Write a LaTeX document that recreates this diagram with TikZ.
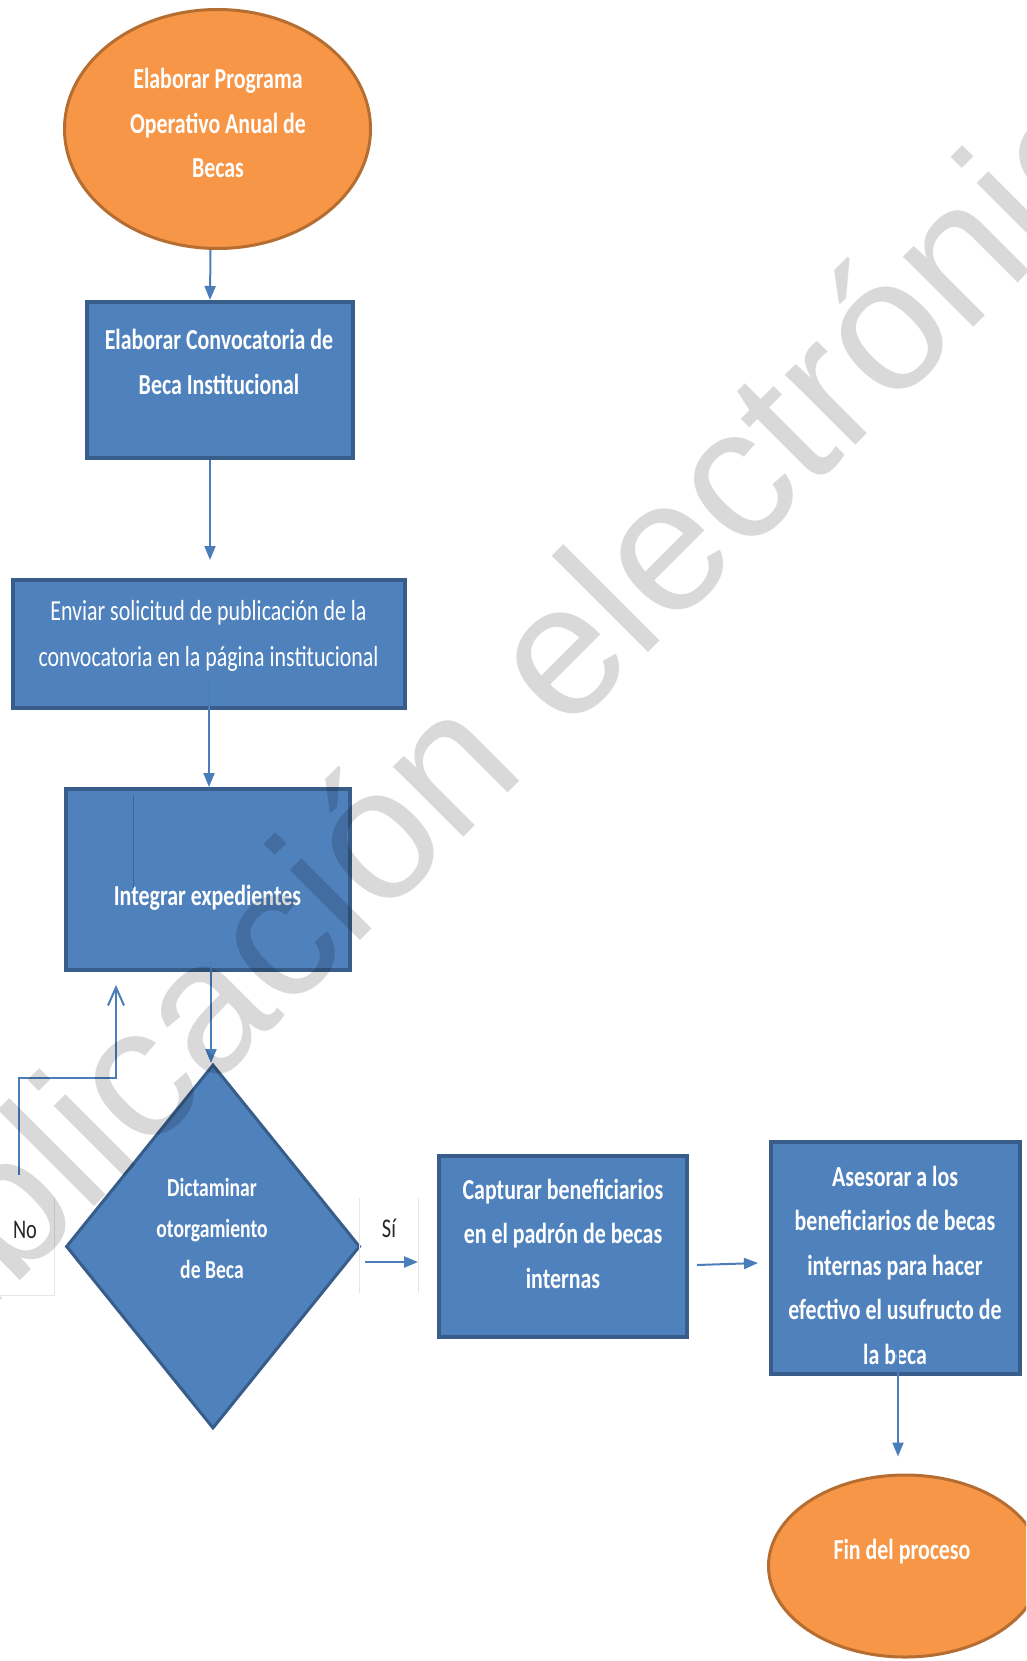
\documentclass[tikz,border=0pt]{standalone}
\usepackage{fontspec}
\setmainfont{Carlito}[FakeStretch=0.755]
\newfontfamily\wmfont{Liberation Sans}
\usetikzlibrary{shapes.geometric,arrows.meta}
\definecolor{boxblue}{HTML}{4F81BD}
\definecolor{boxedge}{HTML}{385D8A}
\definecolor{orfill}{HTML}{F79646}
\definecolor{oredge}{HTML}{B66D31}
\definecolor{linkblue}{HTML}{4A7EBB}
\definecolor{faintgray}{HTML}{E6E6E6}
\begin{document}
\begin{tikzpicture}[x={(1pt,0pt)}, y={(0pt,-1pt)},
  procbox/.style={rectangle, draw=boxedge, line width=4pt, fill=boxblue, inner sep=0pt},
  decbox/.style={diamond, draw=boxedge, line width=3pt, fill=boxblue, inner sep=0pt},
  termbox/.style={ellipse, draw=oredge, line width=3pt, fill=orfill, inner sep=0pt},
  lbl/.style={text=white, font=\fontsize{29}{44.5}\selectfont\bfseries, align=center, inner sep=0pt},
  lblreg/.style={text=white, font=\fontsize{29}{46}\selectfont, align=center, inner sep=0pt},
  dlbl/.style={text=white, font=\fontsize{26}{41}\selectfont\bfseries, align=center, inner sep=0pt},
  branchlbl/.style={text=black!85, font=\fontsize{27}{30}\selectfont, inner sep=0pt},
  framebox/.style={rectangle, draw=none, inner sep=0pt},
  faint/.style={draw=faintgray, line width=1pt},
  conn/.style={draw=linkblue, line width=2pt, -{Triangle[width=11pt,length=14pt]}},
  connopen/.style={draw=linkblue, line width=2pt, -{Straight Barb[width=16pt,length=18pt]}},
  artifact/.style={draw=boxedge!70!boxblue, line width=1pt}
]
\useasboundingbox (0,0) rectangle (1026,1661);
\fill[white] (0,0) rectangle (1026,1661);
\clip (0,0) rectangle (1026,1661);

% shapes
\node[termbox, minimum width=306pt, minimum height=239pt] (e1) at (217.5,129) {};
\node[procbox, minimum width=266pt, minimum height=156pt] (b1) at (220,380) {};
\node[procbox, minimum width=392pt, minimum height=128pt] (b2) at (209,644) {};
\node[procbox, minimum width=284pt, minimum height=181pt] (b3) at (208,879.5) {};
\node[decbox, minimum width=294pt, minimum height=364pt] (d) at (213,1246.5) {};
\node[procbox, minimum width=248pt, minimum height=181pt] (b4) at (563,1246.5) {};
\node[procbox, minimum width=249pt, minimum height=232pt] (b5) at (895.5,1258) {};
\node[termbox, minimum width=273pt, minimum height=182pt] (fin) at (905,1566) {};

% texts
\node[lbl] (t1) at (218,123) {Elaborar Programa\\Operativo Anual de\\Becas};
\node[lbl] (t2) at (219,362) {Elaborar Convocatoria de\\Beca Institucional};
\node[lblreg] (t3) at (208.5,636) {Enviar solicitud de publicación de la\\convocatoria en la página institucional};
\node[lbl] (t4) at (207.5,898) {Integrar expedientes};
\node[dlbl] (t5) at (212,1228) {Dictaminar\\otorgamiento\\de Beca};
\node[lbl] (t6) at (563,1233.5) {Capturar beneficiarios\\en el padrón de becas\\internas};
\node[lbl] (t7) at (895,1265) {Asesorar a los\\beneficiarios de becas\\internas para hacer\\efectivo el usufructo de\\la beca};
\node[lbl] (t8) at (902,1552) {Fin del proceso};

% branch labels with their faint frames
\node[framebox, minimum width=64pt, minimum height=98pt] (nobox) at (22,1246) {};
\draw[faint] (nobox.north east) -- (nobox.south east) -- (nobox.south west);
\node[branchlbl] (no) at (25,1230) {No};
\node[framebox, minimum width=58pt, minimum height=95pt] (sibox) at (389,1245.5) {};
\draw[faint] (sibox.north west) -- (sibox.south west) (sibox.north east) -- (sibox.south east);
\node[branchlbl] (si) at (389,1228) {Sí};

% artifact line inside b3
\draw[artifact] ([xshift=-75pt,yshift=-8pt]b3.north) -- ++(0,93);

% connectors
\draw[conn] ([xshift=-7pt]e1.south) -- ([xshift=-10pt]b1.north);
\draw[conn] ([xshift=-10pt]b1.south) -- ([xshift=1pt,yshift=18pt]b2.north);
\draw[conn] ([yshift=27pt]b2.south) -- ([xshift=1pt]b3.north);
\draw[conn] ([xshift=3pt,yshift=10pt]b3.south) -- ([xshift=-2pt]d.north);
\coordinate (nostart) at (19,1175);
\draw[connopen] (nostart) |- ([xshift=-92pt,yshift=-106pt]b3.south) -- ([xshift=-92pt,yshift=-13pt]b3.south);
\draw[conn] ([xshift=3pt,yshift=-15.5pt]d.east) -- ([xshift=-19pt,yshift=-15.5pt]b4.west);
\draw[conn] ([xshift=8pt,yshift=-18.5pt]b4.east) -- ([xshift=-11pt,yshift=-5pt]b5.west);
\draw[conn] ([xshift=2.5pt,yshift=34pt]b5.south) -- ([xshift=-7pt,yshift=17pt]fin.north);

% watermark
\node[rotate=45, anchor=base, text=black, text opacity=0.15, inner sep=0pt,
      font=\wmfont\fontsize{188}{190}\selectfont] (wm) at (529,772) {Publicación electrónica};
\end{tikzpicture}
\end{document}
